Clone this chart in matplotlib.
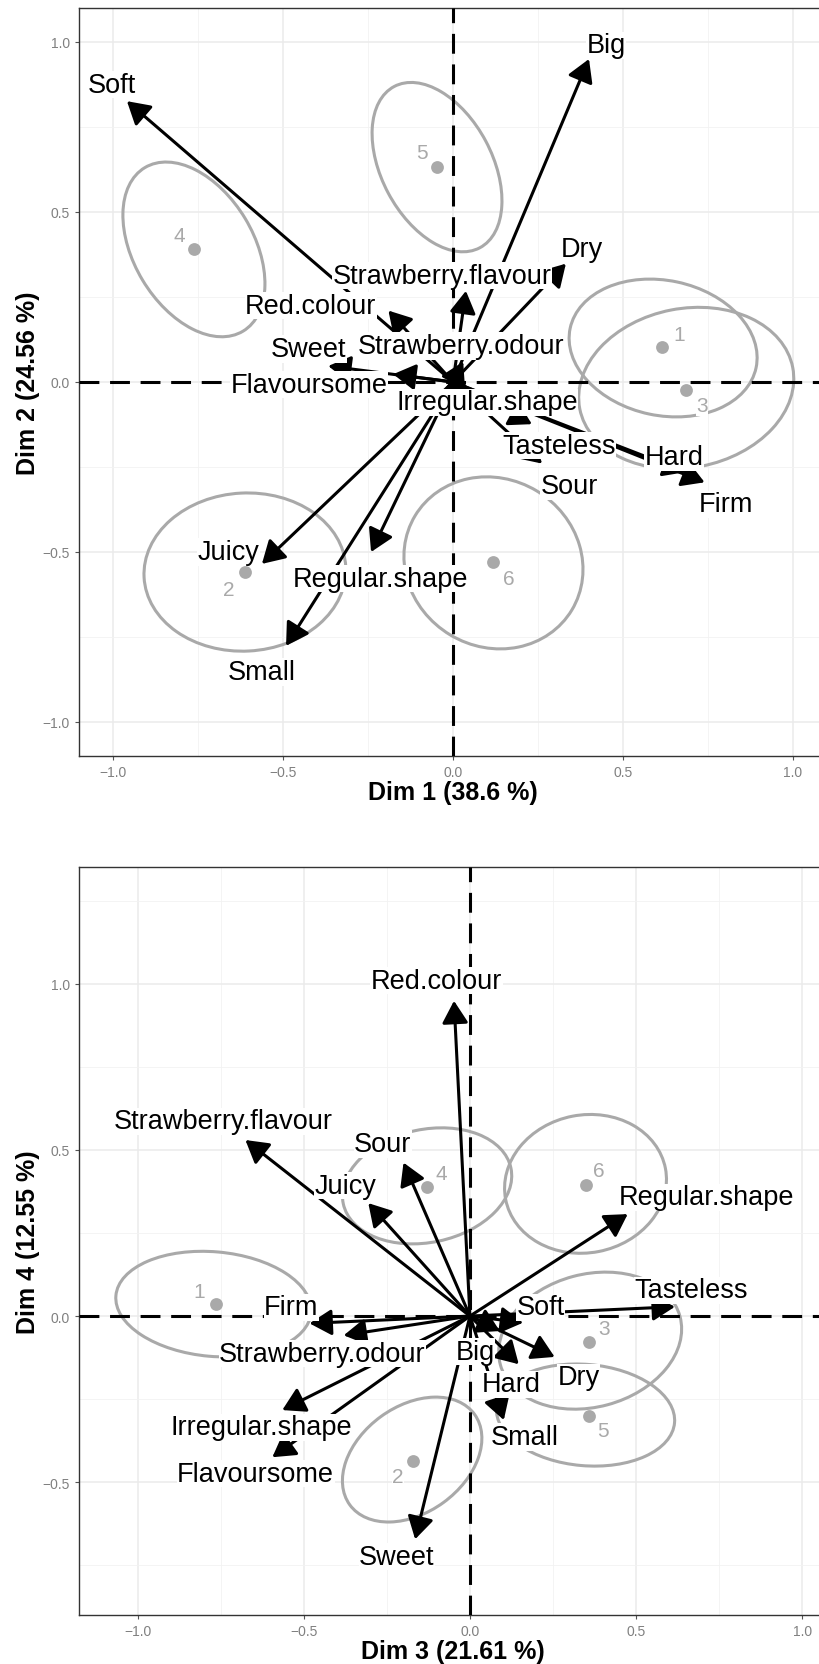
import matplotlib
matplotlib.use("Agg")
import matplotlib.pyplot as plt
from matplotlib.patches import FancyArrowPatch, Ellipse
from matplotlib.ticker import MultipleLocator

plt.rcParams['font.family'] = ['Liberation Sans', 'DejaVu Sans']

# variables (arrows)
variables = ["Soft", "Big", "Dry", "Strawberry.flavour", "Red.colour", "Strawberry.odour",
             "Sweet", "Flavoursome", "Irregular.shape", "Tasteless", "Sour", "Hard",
             "Firm", "Juicy", "Regular.shape", "Small"]

# dim 1 / dim 2 coordinates of the arrow tips
var_d1 = [-0.959, 0.400, 0.332, 0.038, -0.190, 0.030, -0.367, -0.176, 0.050, 0.232, 0.262, 0.685,
          0.740, -0.562, -0.241, -0.491]
var_d2 = [0.826, 0.950, 0.348, 0.268, 0.210, 0.060, 0.047, 0.023, -0.035, -0.124, -0.240, -0.265,
          -0.295, -0.535, -0.500, -0.776]
# label positions (repelled) in dim 1 / dim 2
lab_d1 = [-1.003, 0.450, 0.380, -0.033, -0.418, 0.024, -0.424, -0.424, 0.100, 0.312, 0.341, 0.650,
          0.803, -0.659, -0.212, -0.562]
lab_d2 = [0.874, 0.990, 0.390, 0.312, 0.224, 0.106, 0.097, -0.008, -0.060, -0.188, -0.306, -0.221,
          -0.359, -0.500, -0.579, -0.853]

# dim 3 / dim 4 coordinates of the arrow tips
var_d3 = [0.160, 0.090, 0.255, -0.676, -0.048, -0.380, -0.165, -0.595, -0.565, 0.617, -0.200, 0.147,
          -0.483, -0.306, 0.475, 0.102]
var_d4 = [-0.020, -0.045, -0.123, 0.530, 0.949, -0.058, -0.672, -0.425, -0.283, 0.028, 0.462, -0.145,
          -0.022, 0.340, 0.307, -0.313]
lab_d3 = [0.213, 0.015, 0.327, -0.742, -0.100, -0.444, -0.220, -0.645, -0.627, 0.666, -0.262, 0.123,
          -0.538, -0.376, 0.712, 0.166]
lab_d4 = [0.027, -0.108, -0.184, 0.587, 1.009, -0.114, -0.725, -0.475, -0.335, 0.078, 0.518, -0.205,
          0.027, 0.392, 0.358, -0.364]

# individuals (products)
products = ["1", "2", "3", "4", "5", "6"]
ind_d1 = [0.615, -0.612, 0.685, -0.762, -0.047, 0.118]
ind_d2 = [0.103, -0.559, -0.024, 0.391, 0.632, -0.530]
ind_lab_d1 = [0.665, -0.659, 0.732, -0.806, -0.091, 0.165]
ind_lab_d2 = [0.141, -0.609, -0.070, 0.430, 0.676, -0.579]
ind_d3 = [-0.766, -0.172, 0.358, -0.129, 0.358, 0.348]
ind_d4 = [0.035, -0.436, -0.078, 0.389, -0.300, 0.396]
ind_lab_d3 = [-0.814, -0.216, 0.405, -0.087, 0.402, 0.387]
ind_lab_d4 = [0.075, -0.482, -0.036, 0.428, -0.346, 0.437]

# confidence ellipses: centre, width, height, angle
ell12_cx = [0.618, -0.612, 0.686, -0.762, -0.047, 0.119]
ell12_cy = [0.100, -0.559, -0.018, 0.390, 0.632, -0.532]
ell12_w = [0.559, 0.594, 0.638, 0.561, 0.537, 0.538]
ell12_h = [0.397, 0.465, 0.468, 0.352, 0.325, 0.494]
ell12_ang = [-12, 3, 11, -59, -62, -31]

ell34_cx = [-0.772, -0.174, 0.362, -0.129, 0.348, 0.348]
ell34_cy = [0.036, -0.432, -0.074, 0.392, -0.298, 0.398]
ell34_w = [0.590, 0.464, 0.560, 0.516, 0.538, 0.490]
ell34_h = [0.315, 0.320, 0.400, 0.340, 0.305, 0.415]
ell34_ang = [-5, 36, 15, 12, -5, 11]

GREY = "#A9A9A9"
WHITE_BOX = dict(boxstyle="square,pad=0.02", fc="white", ec="none")


def draw_panel(ax, vx, vy, lx, ly, px, py, plx, ply, ecx, ecy, ew, eh, ea, xlim, ylim, xlab, ylab):
    ax.set_xlim(*xlim)
    ax.set_ylim(*ylim)
    ax.xaxis.set_major_locator(MultipleLocator(0.5))
    ax.yaxis.set_major_locator(MultipleLocator(0.5))
    ax.xaxis.set_minor_locator(MultipleLocator(0.25))
    ax.yaxis.set_minor_locator(MultipleLocator(0.25))
    ax.grid(which="major", color="#EBEBEB", lw=1.1, zorder=0)
    ax.grid(which="minor", color="#F2F2F2", lw=0.6, zorder=0)
    ax.set_axisbelow(True)
    ax.tick_params(which="minor", length=0)
    ax.tick_params(which="major", length=3, color="#555555", labelsize=10, labelcolor="#808080")
    for s in ax.spines.values():
        s.set_color("#333333")
        s.set_linewidth(1.0)

    for i in range(len(ecx)):
        ax.add_patch(Ellipse((ecx[i], ecy[i]), ew[i], eh[i], angle=ea[i], fill=False,
                             ec=GREY, lw=2.2, zorder=2))

    ax.axhline(0, color="black", lw=2.2, ls=(0, (6.5, 3.5)), zorder=3)
    ax.axvline(0, color="black", lw=2.2, ls=(0, (6.5, 3.5)), zorder=3)

    ax.scatter(px, py, s=85, color=GREY, zorder=4, linewidths=0)

    for i in range(len(vx)):
        arr = FancyArrowPatch((0, 0), (vx[i], vy[i]), arrowstyle="-|>,head_length=0.68,head_width=0.4",
                              mutation_scale=20, color="black", lw=2.2, shrinkA=0, shrinkB=0, zorder=5)
        ax.add_patch(arr)

    for i in range(len(px)):
        ax.text(plx[i], ply[i], products[i], color=GREY, fontsize=15, ha="center", va="center",
                bbox=WHITE_BOX, zorder=6)
    for i in range(len(vx)):
        ax.text(lx[i], ly[i], variables[i], color="black", fontsize=19.5, ha="center", va="center",
                bbox=WHITE_BOX, zorder=7)

    ax.set_xlabel(xlab, fontsize=18, fontweight="bold", labelpad=1)
    ax.set_ylabel(ylab, fontsize=18, fontweight="bold", labelpad=2)


fig = plt.figure(figsize=(8.2, 16.65), dpi=100)
ax1 = fig.add_axes([79 / 820, (1665 - 757) / 1665, 748 / 820, 748 / 1665])
ax2 = fig.add_axes([79 / 820, (1665 - 1616) / 1665, 748 / 820, 748 / 1665])

draw_panel(ax1, var_d1, var_d2, lab_d1, lab_d2, ind_d1, ind_d2, ind_lab_d1, ind_lab_d2,
           ell12_cx, ell12_cy, ell12_w, ell12_h, ell12_ang, (-1.1, 1.1), (-1.1, 1.1),
           "Dim 1 (38.6 %)", "Dim 2 (24.56 %)")
draw_panel(ax2, var_d3, var_d4, lab_d3, lab_d4, ind_d3, ind_d4, ind_lab_d3, ind_lab_d4,
           ell34_cx, ell34_cy, ell34_w, ell34_h, ell34_ang, (-1.177, 1.075), (-0.90, 1.352),
           "Dim 3 (21.61 %)", "Dim 4 (12.55 %)")

fig.savefig("out.png", dpi=100)
